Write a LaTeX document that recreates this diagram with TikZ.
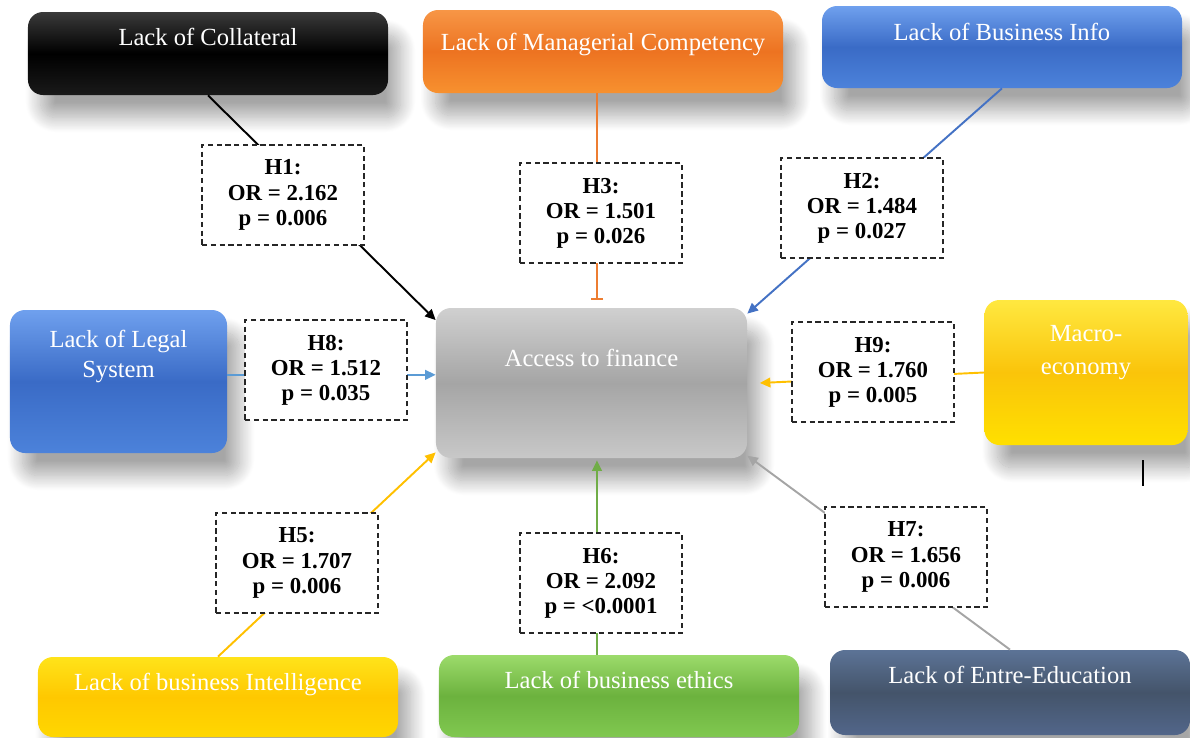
\documentclass[tikz,border=0pt]{standalone}
\usepackage{fontspec}
\setmainfont{Liberation Serif}
\usetikzlibrary{arrows.meta,shadows.blur}

\definecolor{blkTop}{HTML}{3A3A3A}
\definecolor{blkMid}{HTML}{000000}
\definecolor{blkBot}{HTML}{1A1A1A}
\definecolor{orgTop}{HTML}{F79646}
\definecolor{orgMid}{HTML}{ED7321}
\definecolor{orgBot}{HTML}{F7912F}
\definecolor{bluTop}{HTML}{6FA0EE}
\definecolor{bluMid}{HTML}{3A6BC6}
\definecolor{bluBot}{HTML}{4C82DA}
\definecolor{golTop}{HTML}{FFE840}
\definecolor{golMid}{HTML}{FAC40A}
\definecolor{golBot}{HTML}{FFE000}
\definecolor{ylwTop}{HTML}{FFE31A}
\definecolor{ylwMid}{HTML}{FFC800}
\definecolor{ylwBot}{HTML}{FFD700}
\definecolor{grnTop}{HTML}{9CDB6B}
\definecolor{grnMid}{HTML}{6CB23E}
\definecolor{grnBot}{HTML}{80C850}
\definecolor{slaTop}{HTML}{5C7396}
\definecolor{slaMid}{HTML}{44546A}
\definecolor{slaBot}{HTML}{52668A}
\definecolor{gryTop}{HTML}{D0D0D0}
\definecolor{gryMid}{HTML}{A5A5A5}
\definecolor{gryBot}{HTML}{C8C8C8}
\definecolor{lnOrange}{HTML}{ED7D31}
\definecolor{lnBlue}{HTML}{4472C4}
\definecolor{lnSky}{HTML}{5B9BD5}
\definecolor{lnGold}{HTML}{FFC000}
\definecolor{lnGreen}{HTML}{70AD47}
\definecolor{lnGray}{HTML}{A5A5A5}

\begin{document}
\begin{tikzpicture}[scale=0.2]
			\tikzset{
				every node/.append style={inner sep=0pt},
				factor/.style={rounded corners=0.3cm, draw=none,
					blur shadow={shadow xshift=0.25cm, shadow yshift=-0.45cm, shadow blur radius=0.3cm,
						shadow blur steps=25, shadow opacity=35}},
				gloss/.style n args={3}{top color=#1, bottom color=#3, middle color=#2},
				factortext/.style={anchor=north, text=white, align=center, font=\fontsize{14}{17}\selectfont},
				hypo/.style={draw=black!85, dash pattern=on 3pt off 2pt, line width=0.6pt, fill=white,
					minimum width=3.24cm, minimum height=2cm, align=center, font=\bfseries\fontsize{13}{14.3}\selectfont},
				link/.style={line width=1.1pt, -{Triangle[length=6pt,width=5.5pt]}}
			}
			\useasboundingbox (0,0) rectangle (119,-73.8);
			% central box
			\node [factor, gloss={gryTop}{gryMid}{gryBot}, minimum width=6.22cm, minimum height=3cm,
				label={[factortext, yshift=-0.82cm]north:Access to finance}] (acc) at (59.15,-38.3) {};
			% factors
			\node [factor, gloss={blkTop}{blkMid}{blkBot}, minimum width=7.2cm, minimum height=1.66cm,
				label={[factortext, yshift=-0.33cm]north:Lack of Collateral}] (coll) at (20.8,-5.35) {};
			\node [factor, gloss={orgTop}{orgMid}{orgBot}, minimum width=7.2cm, minimum height=1.66cm,
				label={[factortext, yshift=-0.47cm]north:Lack of Managerial Competency}] (mgr) at (60.3,-5.15) {};
			\node [factor, gloss={bluTop}{bluMid}{bluBot}, minimum width=7.2cm, minimum height=1.64cm,
				label={[factortext, yshift=-0.35cm]north:Lack of Business Info}] (info) at (100.2,-4.7) {};
			\node [factor, gloss={bluTop}{bluMid}{bluBot}, minimum width=4.34cm, minimum height=2.86cm,
				label={[factortext, yshift=-0.4cm]north:Lack of Legal\\System}] (legal) at (11.85,-38.15) {};
			\node [factor, gloss={golTop}{golMid}{golBot}, minimum width=4.06cm, minimum height=2.9cm,
				label={[factortext, font=\fontsize{14}{18.8}\selectfont, yshift=-0.5cm]north:Macro-\\economy}] (macro) at (108.6,-37.25) {};
			\node [factor, gloss={ylwTop}{ylwMid}{ylwBot}, minimum width=7.2cm, minimum height=1.6cm,
				label={[factortext, yshift=-0.33cm]north:Lack of business Intelligence}] (intel) at (21.8,-69.7) {};
			\node [factor, gloss={grnTop}{grnMid}{grnBot}, minimum width=7.2cm, minimum height=1.64cm,
				label={[factortext, yshift=-0.33cm]north:Lack of business ethics}] (ethics) at (61.9,-69.6) {};
			\node [factor, gloss={slaTop}{slaMid}{slaBot}, minimum width=7.2cm, minimum height=1.7cm,
				label={[factortext, yshift=-0.33cm]north:Lack of Entre-Education}] (edu) at (101,-69.25) {};
			% connectors
			\draw [link, black] (coll.south) -- (acc.158);
			\draw [line width=1.1pt, lnOrange, -{Bar[width=7pt,line width=1.1pt]}]
				([xshift=0.55cm]acc.north |- mgr.south) -- ([xshift=0.55cm, yshift=0.8cm]acc.north);
			\draw [link, lnBlue] (info.south) -- (acc.24);
			\draw [link, lnSky] (legal.east |- acc.177) -- (acc.177);
			\draw [link, lnGold] (macro.west) -- ([xshift=1.25cm]acc.east);
			\draw [link, lnGold] (intel.north) -- (acc.204);
			\draw [link, lnGreen] ([xshift=0.55cm]acc.south |- ethics.north) -- ([xshift=0.55cm, yshift=-0.2cm]acc.south);
			\draw [link, lnGray] (edu.north) -- (acc.335);
			% hypotheses
			\node [hypo] (h1) at (28.3,-19.5) {H1:\\OR = 2.162\\p = 0.006};
			\node [hypo] (h3) at (60.1,-21.3) {H3:\\OR = 1.501\\p = 0.026};
			\node [hypo] (h2) at (86.2,-20.8) {H2:\\OR = 1.484\\p = 0.027};
			\node [hypo] (h8) at (32.6,-37) {H8:\\OR = 1.512\\p = 0.035};
			\node [hypo] (h9) at (87.3,-37.2) {H9:\\OR = 1.760\\p = 0.005};
			\node [hypo] (h5) at (29.7,-56.3) {H5:\\OR = 1.707\\p = 0.006};
			\node [hypo] (h6) at (60.1,-58.3) {H6:\\OR = 2.092\\p = <0.0001};
			\node [hypo] (h7) at (90.6,-55.7) {H7:\\OR = 1.656\\p = 0.006};
			\draw [black, line width=0.6pt] (114.3,-46) -- (114.3,-48.6);
		\end{tikzpicture}
\end{document}
